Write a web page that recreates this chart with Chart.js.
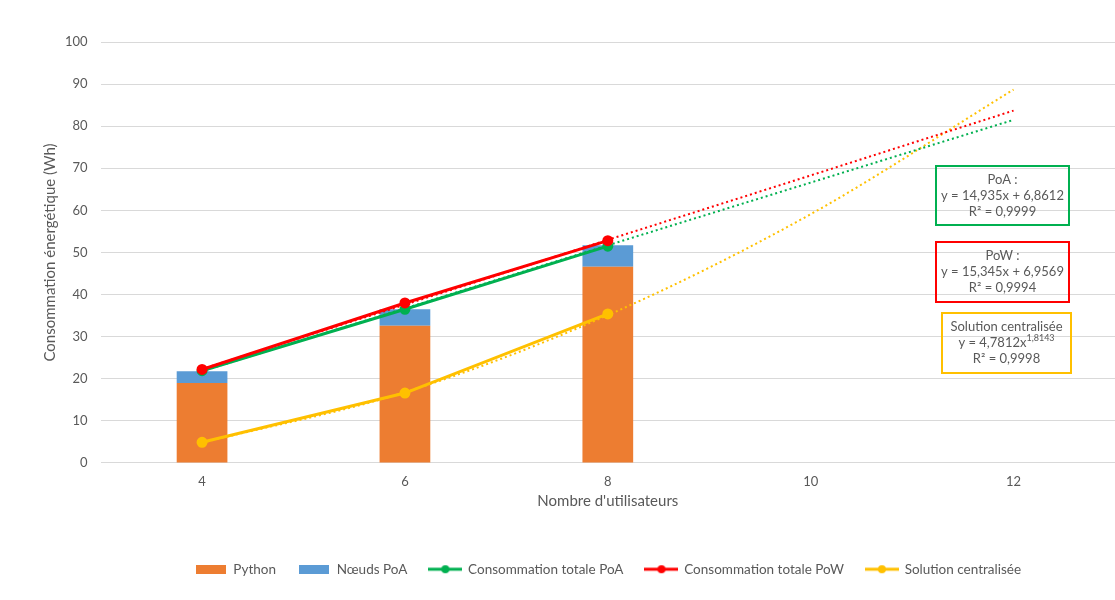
<!DOCTYPE html>
<html>
<head>
<meta charset="utf-8">
<script src="https://cdn.jsdelivr.net/npm/chart.js@4"></script>
<style>
  html, body { margin: 0; padding: 0; background: #fff; overflow: hidden; }
  /* a bit wider than the window: chart.js keeps ~7px on the right, the reference plot runs to the edge */
  #wrap { position: relative; width: 1122px; height: 600px; }
  #chart { display: block; }
</style>
</head>
<body>
<div id="wrap"><canvas id="chart"></canvas></div>
<script>
// Data
const users = ['4', '6', '8', '10', '12'];
const python = [19.0, 32.6, 46.6, null, null];
const noeudsPoA = [2.8, 3.9, 5.1, null, null];
const totalPoA = [21.9, 36.5, 51.5, null, null];
const totalPoW = [22.2, 38.0, 52.8, null, null];
const centralisee = [4.9, 16.6, 35.4, null, null];
// trendlines (dotted), as read on the picture
const trendPoA = [21.8, 36.7, 51.7, 66.6, 81.5];
const trendPoW = [22.3, 37.6, 53.0, 68.3, 83.7];
const trendCentral = [4.8, 16.8, 35.1, 59.1, 88.7];
const yTicks = [0, 10, 20, 30, 40, 50, 60, 70, 80, 90, 100];

const FONT = 'Lato, "Open Sans", sans-serif';
const GREY = '#595959';
const ORANGE = '#ED7D31', BLUE = '#5B9BD5', GREEN = '#00B050', RED = '#FF0000', YELLOW = '#FFC000';

// little legend symbols like excel's
function boxIcon(color) {
    const c = document.createElement('canvas');
    c.width = 30; c.height = 9;
    const x = c.getContext('2d');
    x.fillStyle = color;
    x.fillRect(0, 0, 30, 9);
    return c;
}
function lineIcon(color) {
    const c = document.createElement('canvas');
    c.width = 34; c.height = 10;
    const x = c.getContext('2d');
    x.strokeStyle = color;
    x.lineWidth = 3;
    x.beginPath(); x.moveTo(0, 5); x.lineTo(34, 5); x.stroke();
    x.fillStyle = color;
    x.beginPath(); x.arc(17, 5, 4, 0, Math.PI * 2); x.fill();
    return c;
}
const icons = [boxIcon(ORANGE), boxIcon(BLUE), lineIcon(GREEN), lineIcon(RED), lineIcon(YELLOW)];

// text boxes with the regression equations
const equationBoxes = {
    id: 'equationBoxes',
    afterDatasetsDraw(chart) {
        const ctx = chart.ctx;
        const boxes = [
            { x: 936, y: 166, w: 133, h: 59, color: GREEN, lines: [['PoA :'], ['y = 14,935x + 6,8612'], ['R² = 0,9999']] },
            { x: 936, y: 242, w: 133, h: 60, color: RED, lines: [['PoW :'], ['y = 15,345x + 6,9569'], ['R² = 0,9994']] },
            { x: 942, y: 313, w: 129, h: 60, color: YELLOW, lines: [['Solution centralisée'], ['y = 4,7812x', '1,8143'], ['R² = 0,9998']] }
        ];
        ctx.save();
        boxes.forEach(b => {
            ctx.strokeStyle = b.color;
            ctx.lineWidth = 2;
            ctx.strokeRect(b.x, b.y, b.w, b.h);
            ctx.fillStyle = GREY;
            ctx.textBaseline = 'middle';
            const cx = b.x + b.w / 2;
            b.lines.forEach((ln, i) => {
                const ty = b.y + 14 + i * 16;
                ctx.font = '13px ' + FONT;
                if (ln.length === 1) {
                    ctx.textAlign = 'center';
                    ctx.fillText(ln[0], cx, ty);
                } else {
                    // base text plus superscript exponent
                    const w1 = ctx.measureText(ln[0]).width;
                    ctx.font = '9px ' + FONT;
                    const w2 = ctx.measureText(ln[1]).width;
                    const start = cx - (w1 + w2) / 2;
                    ctx.textAlign = 'left';
                    ctx.font = '13px ' + FONT;
                    ctx.fillText(ln[0], start, ty);
                    ctx.font = '9px ' + FONT;
                    ctx.fillText(ln[1], start + w1, ty - 5);
                }
            });
        });
        ctx.restore();
    }
};

const lineDefaults = { type: 'line', borderWidth: 3, pointRadius: 4, pointHoverRadius: 4, spanGaps: false };
const trendDefaults = { type: 'line', borderWidth: 2, borderDash: [2, 3], pointRadius: 0, fill: false, order: 5 };

new Chart(document.getElementById('chart'), {
    type: 'bar',
    data: {
        labels: users,
        datasets: [
            { label: 'Python', data: python, backgroundColor: ORANGE, stack: 'bars', order: 10 },
            { label: 'Nœuds PoA', data: noeudsPoA, backgroundColor: BLUE, stack: 'bars', order: 10 },
            Object.assign({ label: 'Consommation totale PoA', data: totalPoA, borderColor: GREEN, backgroundColor: GREEN, stack: 'a', order: 3 }, lineDefaults),
            Object.assign({ label: 'Consommation totale PoW', data: totalPoW, borderColor: RED, backgroundColor: RED, stack: 'b', order: 2 }, lineDefaults),
            Object.assign({ label: 'Solution centralisée', data: centralisee, borderColor: YELLOW, backgroundColor: YELLOW, stack: 'c', order: 1 }, lineDefaults),
            Object.assign({ label: 'trendPoA', data: trendPoA, borderColor: GREEN, stack: 'd' }, trendDefaults),
            Object.assign({ label: 'trendPoW', data: trendPoW, borderColor: RED, stack: 'e' }, trendDefaults),
            Object.assign({ label: 'trendCentral', data: trendCentral, borderColor: YELLOW, stack: 'f', cubicInterpolationMode: 'monotone' }, trendDefaults)
        ]
    },
    options: {
        responsive: true,
        maintainAspectRatio: false,
        animation: false,
        layout: { padding: { top: 42, right: 0, left: 41, bottom: 14 } },
        datasets: { bar: { categoryPercentage: 1, barPercentage: 0.25 } },
        scales: {
            x: {
                stacked: true,
                grid: { display: false },
                border: { display: false },
                ticks: { color: GREY, font: { family: FONT, size: 13 }, padding: 3 },
                title: { display: true, text: "Nombre d'utilisateurs", color: GREY, font: { family: FONT, size: 15 }, padding: { top: 0, bottom: 30 } }
            },
            y: {
                stacked: true,
                min: 0,
                max: 100,
                afterBuildTicks: axis => { axis.ticks = yTicks.map(v => ({ value: v })); },
                grid: { color: '#D9D9D9', drawTicks: false },
                border: { display: false },
                ticks: { color: GREY, font: { family: FONT, size: 13 }, padding: 13 },
                title: { display: true, text: 'Consommation énergétique (Wh)', color: GREY, font: { family: FONT, size: 15 }, padding: { top: 0, bottom: -7 } }
            }
        },
        plugins: {
            tooltip: { enabled: false },
            legend: {
                position: 'bottom',
                fullSize: false,
                labels: {
                    color: GREY,
                    font: { family: FONT, size: 13.5 },
                    usePointStyle: true,
                    pointStyleWidth: 32,
                    padding: 22,
                    filter: item => item.datasetIndex < 5,
                    sort: (a, b) => a.datasetIndex - b.datasetIndex,
                    generateLabels: chart => {
                        const items = Chart.defaults.plugins.legend.labels.generateLabels(chart);
                        items.forEach(it => { it.pointStyle = icons[it.datasetIndex]; });
                        return items;
                    }
                }
            }
        }
    },
    plugins: [equationBoxes]
});
</script>
</body>
</html>
